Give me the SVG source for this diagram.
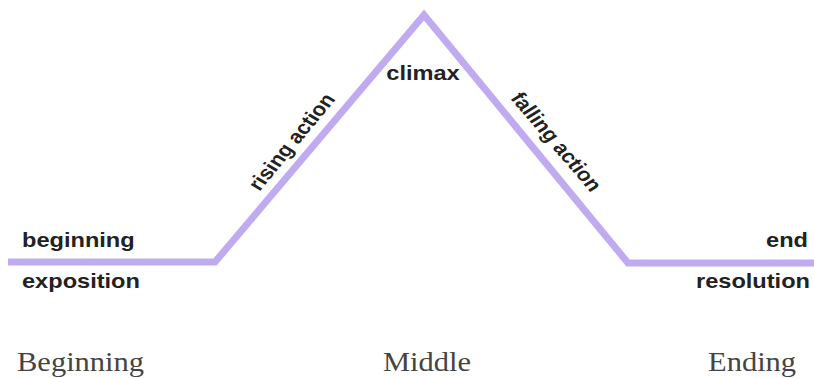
<svg xmlns="http://www.w3.org/2000/svg" width="814" height="378" viewBox="0 0 814 378">
<style>
.lbl{font-family:"Liberation Sans",Arial,sans-serif;font-weight:bold;font-size:19px;fill:#222}
.big{font-size:20px}
.sec{font-family:"Liberation Serif","Times New Roman",serif;font-size:27px;fill:#444}
</style>
<rect width="814" height="378" fill="#fff"/>
<g id="connectors">
<polyline points="8,262 215,262 424,15 628,263 814,263" fill="none" stroke="#c0abf0" stroke-width="7" stroke-linejoin="miter" stroke-miterlimit="10"/>
</g>
<g id="beginning"><text class="lbl big" transform="translate(22,247) scale(1.18,1)">beginning</text></g>
<g id="exposition"><text class="lbl big" transform="translate(22,288) scale(1.18,1)">exposition</text></g>
<g id="rising-action"><text class="lbl" text-anchor="middle" dy="6" transform="translate(292,142) scale(1.18,1) rotate(-55)">rising action</text></g>
<g id="climax"><text class="lbl big" text-anchor="middle" transform="translate(423,80) scale(1.18,1)">climax</text></g>
<g id="falling-action"><text class="lbl" text-anchor="middle" dy="6" transform="translate(556,142) scale(1.18,1) rotate(54)">falling action</text></g>
<g id="end"><text class="lbl big" text-anchor="end" transform="translate(808,247) scale(1.18,1)">end</text></g>
<g id="resolution"><text class="lbl big" text-anchor="end" transform="translate(810,288) scale(1.18,1)">resolution</text></g>
<g id="sec-beginning"><text class="sec" transform="translate(17,371) scale(1.13,1)">Beginning</text></g>
<g id="sec-middle"><text class="sec" transform="translate(383,371) scale(1.13,1)">Middle</text></g>
<g id="sec-ending"><text class="sec" transform="translate(708,371) scale(1.13,1)">Ending</text></g>
</svg>
